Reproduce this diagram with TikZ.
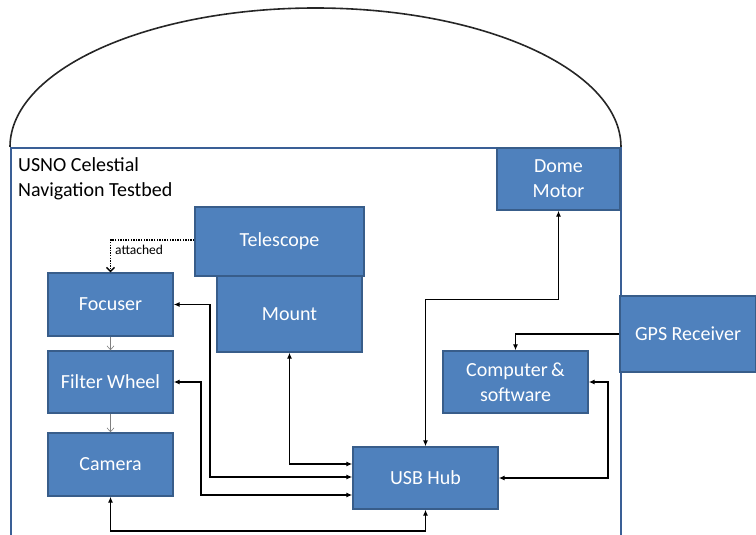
\documentclass[tikz,border=0pt]{standalone}
\usepackage{fontspec}
\setmainfont{Carlito}
\usetikzlibrary{arrows.meta}
\definecolor{boxfill}{HTML}{4F81BD}
\definecolor{boxline}{HTML}{385D8A}
\definecolor{roomline}{HTML}{3A5F96}
\begin{document}
\begin{tikzpicture}[x=1pt,y=-1pt,
  box/.style={draw=boxline, fill=boxfill, line width=1.4pt, text=white, align=center,
    font=\fontsize{20}{25}\selectfont, inner sep=2pt},
  link/.style={line width=1.6pt, black, {Latex[length=6pt,width=5pt]}-{Latex[length=6pt,width=5pt]}},
  onelink/.style={line width=1.6pt, black, -{Latex[length=6pt,width=5pt]}},
  thin/.style={line width=0.6pt, gray, -{Straight Barb[length=4pt,width=7pt]}},
  dots/.style={line width=1.4pt, dash pattern=on 1.3pt off 1.3pt, black, -{Straight Barb[length=4pt,width=8pt]}}]
\useasboundingbox (0,0) rectangle (756,535);
% dome
\draw[line width=1.6pt, black!85] (10,147) arc[start angle=180, end angle=0, x radius=305.5pt, y radius=139pt];
% room
\draw[roomline, line width=2.2pt] (11,536) -- (11,148) -- (621,148) -- (621,536);
% title
\node[anchor=north west, align=left, inner sep=0pt, font=\fontsize{20}{25}\selectfont] (title) at (18,157) {USNO Celestial\\Navigation Testbed};
% boxes
\node[box, minimum width=123pt, minimum height=62pt] (dome) at (558.5,179) {Dome\\Motor};
\node[box, minimum width=145pt, minimum height=76pt] (mount) at (289.5,314) {Mount};
\node[box, minimum width=169pt, minimum height=69pt] (telescope) at (279.5,241.5) {Telescope};
\node[box, minimum width=125pt, minimum height=63pt] (focuser) at (110.5,304.5) {Focuser};
\node[box, minimum width=125pt, minimum height=62pt] (filter) at (110.5,382) {Filter Wheel};
\node[box, minimum width=125pt, minimum height=63pt] (camera) at (110.5,464.5) {Camera};
\node[box, minimum width=145pt, minimum height=62pt] (usb) at (425.5,478) {USB Hub};
\node[box, minimum width=145pt, minimum height=62pt] (computer) at (515.5,382) {Computer\,\&\\software};
\node[box, minimum width=136pt, minimum height=76pt] (gps) at (688,334) {GPS Receiver};
% connectors
\draw[dots] ([yshift=1.5pt]telescope.west) -| (focuser.north);
\node[anchor=west, inner sep=0pt, font=\fontsize{13.5}{15}\selectfont] (att) at (115,250) {attached};
\draw[thin] (focuser.south) -- (filter.north);
\draw[thin] (filter.south) -- (camera.north);
\draw[link] (focuser.east) -- ++(36,0) |- ([yshift=1pt]usb.west);
\draw[link] (filter.east) -- ++(27,0) |- ([yshift=-17pt]usb.west);
\draw[link] (mount.south) |- ([yshift=14pt]usb.west);
\draw[link] (camera.south) -- ++(0,34) -| (usb.south);
\draw[link] (usb.north) -- ++(0,-147) -| (dome.south);
\draw[onelink] (gps.west) -| (computer.north);
\draw[link] (computer.east) -- ++(19,0) |- (usb.east);
\end{tikzpicture}
\end{document}
